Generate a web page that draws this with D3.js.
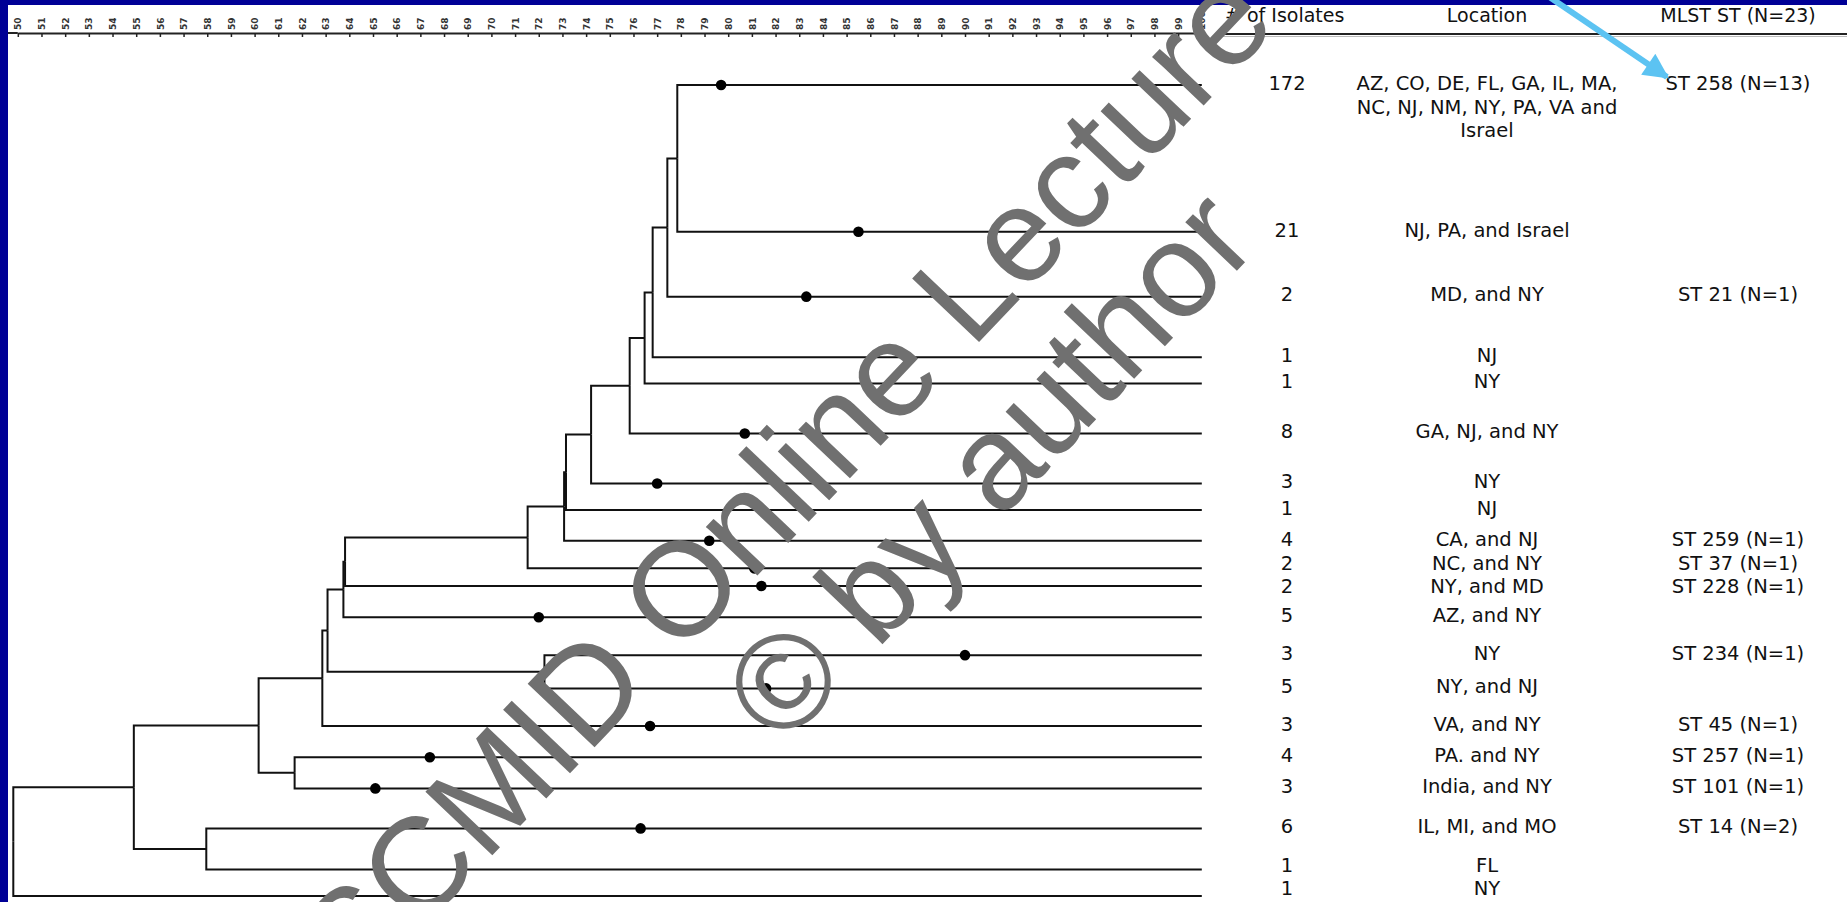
<!DOCTYPE html>
<html>
<head>
<meta charset="utf-8">
<script src="https://cdn.jsdelivr.net/npm/d3@7"></script>
<style>
  body { margin: 0; background: #fff; }
  svg { display: block; }
</style>
</head>
<body>
<svg id="chart"></svg>
<script>
// ---- data ----
// leaf rows, top to bottom
var isolates = ["172", "21", "2", "1", "1", "8", "3", "1", "4", "2", "2", "5", "3", "5", "3", "4", "3", "6", "1", "1"];
var locations = [
    ["AZ, CO, DE, FL, GA, IL, MA,", "NC, NJ, NM, NY, PA, VA and", "Israel"],
    ["NJ, PA, and Israel"], ["MD, and NY"], ["NJ"], ["NY"], ["GA, NJ, and NY"], ["NY"], ["NJ"],
    ["CA, and NJ"], ["NC, and NY"], ["NY, and MD"], ["AZ, and NY"], ["NY"], ["NY, and NJ"],
    ["VA, and NY"], ["PA. and NY"], ["India, and NY"], ["IL, MI, and MO"], ["FL"], ["NY"]
];
var mlst = ["ST 258 (N=13)", "", "ST 21 (N=1)", "", "", "", "", "", "ST 259 (N=1)", "ST 37 (N=1)",
    "ST 228 (N=1)", "", "ST 234 (N=1)", "", "ST 45 (N=1)", "ST 257 (N=1)", "ST 101 (N=1)", "ST 14 (N=2)", "", ""];
// vertical slot of each leaf (row units)
var leafSlot = [0, 5.43, 7.83, 10.07, 11.04, 12.89, 14.74, 15.72, 16.86, 17.88,
    18.53, 19.69, 21.09, 22.32, 23.71, 24.87, 26.02, 27.50, 29.02, 30.0];
// % similarity of the dot drawn on each leaf branch (null = none)
var markerSim = [79.7, 85.5, 83.3, null, null, 80.7, 77.0, null, 79.2, 81.1,
    81.4, 72.0, 90.0, 81.6, 76.7, 67.4, 65.1, 76.3, null, null];
// merges: [child, child, % similarity of the join]; Lk = leaf k, Nk = k-th merge
var merges = [
    ["L0", "L1", 77.85], ["N0", "L2", 77.43], ["N1", "L3", 76.81], ["N2", "L4", 76.47],
    ["N3", "L5", 75.84], ["N4", "L6", 74.21], ["N5", "L7", 73.15], ["N6", "L8", 73.07],
    ["N7", "L9", 71.53], ["N8", "L10", 63.82], ["N9", "L11", 63.75], ["L12", "L13", 72.24],
    ["N10", "N11", 63.08], ["N12", "L14", 62.86], ["L15", "L16", 61.69], ["N13", "N14", 60.17],
    ["L17", "L18", 57.96], ["N15", "N16", 54.90], ["N17", "L19", 49.81]
];
var simTicks = [50, 51, 52, 53, 54, 55, 56, 57, 58, 59, 60, 61, 62, 63, 64, 65, 66, 67, 68, 69, 70,
    71, 72, 73, 74, 75, 76, 77, 78, 79, 80, 81, 82, 83, 84, 85, 86, 87, 88, 89, 90,
    91, 92, 93, 94, 95, 96, 97, 98, 99, 100];
var headers = ["# of Isolates", "Location", "MLST ST (N=23)"];

// ---- layout ----
var width = 1847, height = 902;
var font = "'DejaVu Sans', Verdana, sans-serif";

var svg = d3.select("#chart")
    .attr("width", width)
    .attr("height", height);

svg.append("rect").attr("width", width).attr("height", height).attr("fill", "#fff");
// blue slide frame
svg.append("rect").attr("x", 0).attr("y", 0).attr("width", 8).attr("height", height).attr("fill", "#000096");
svg.append("rect").attr("x", 0).attr("y", 0).attr("width", width).attr("height", 5).attr("fill", "#000096");

var x = d3.scaleLinear().domain([50, 100]).range([17.8, 1201.8]);
var y = d3.scaleLinear().domain([0, 30]).range([85, 896]);

// top similarity axis
var axisG = svg.append("g")
    .attr("transform", "translate(0,33)")
    .call(d3.axisTop(x).tickValues(simTicks).tickSize(-4).tickSizeOuter(0));
axisG.select(".domain").attr("stroke", "#222").attr("stroke-width", 2);
axisG.selectAll(".tick line").attr("stroke", "#222").attr("stroke-width", 1.5);
axisG.selectAll(".tick text")
    .attr("transform", "rotate(-90)")
    .attr("x", 3)
    .attr("y", 0)
    .attr("dy", "0.35em")
    .style("text-anchor", "start")
    .style("font-family", font)
    .style("font-size", "9px")
    .style("font-weight", "bold")
    .style("fill", "#333");
svg.append("line").attr("x1", 8).attr("x2", x(50)).attr("y1", 33).attr("y2", 33)
    .attr("stroke", "#222").attr("stroke-width", 2);

// build the tree from merges
var nodes = {};
isolates.forEach(function (d, i) {
    nodes["L" + i] = {name: "L" + i, leaf: i, sim: 100};
});
merges.forEach(function (m, i) {
    nodes["N" + i] = {name: "N" + i, sim: m[2], children: [nodes[m[0]], nodes[m[1]]]};
});
var root = d3.hierarchy(nodes["N" + (merges.length - 1)]);
root.eachAfter(function (n) {
    n.px = x(n.data.sim);
    if (n.children) {
        n.py = d3.mean(n.children, function (c) { return c.py; });
    } else {
        n.py = y(leafSlot[n.data.leaf]);
    }
});

var tree = svg.append("g")
    .attr("fill", "none")
    .attr("stroke", "#111")
    .attr("stroke-width", 2);

// elbow links
tree.selectAll("path.link")
    .data(root.links())
    .enter().append("path")
    .attr("class", "link")
    .attr("d", function (l) {
        return "M" + l.source.px + "," + l.source.py + "V" + l.target.py + "H" + l.target.px;
    });

// dots on leaf branches
var leaves = root.leaves();
svg.append("g")
    .selectAll("circle")
    .data(leaves.filter(function (l) { return markerSim[l.data.leaf] != null; }))
    .enter().append("circle")
    .attr("cx", function (l) { return x(markerSim[l.data.leaf]); })
    .attr("cy", function (l) { return l.py; })
    .attr("r", 5.3)
    .attr("fill", "#000");

// header
var colX = [1225, 1487, 1738];
svg.append("g").selectAll("text")
    .data(headers)
    .enter().append("text")
    .attr("x", function (d, i) { return colX[i]; })
    .attr("y", 15)
    .attr("dy", "0.35em")
    .attr("text-anchor", function (d, i) { return i == 0 ? "start" : "middle"; })
    .style("font-family", font)
    .style("font-size", "19px")
    .style("fill", "#111")
    .text(function (d) { return d; });
svg.append("line").attr("x1", 1220).attr("x2", width).attr("y1", 34).attr("y2", 34)
    .attr("stroke", "#222").attr("stroke-width", 2);
svg.append("line").attr("x1", 1220).attr("x2", width).attr("y1", 36.5).attr("y2", 36.5)
    .attr("stroke", "#bbb").attr("stroke-width", 1);

// label rows follow the leaves, nudged apart where two leaves sit too close
var labelY = isolates.map(function (d, i) { return y(leafSlot[i]) - 2; });
var minGap = 23;
for (var pass = 0; pass < 10; pass++) {
    labelY[labelY.length - 1] = Math.min(labelY[labelY.length - 1], height - 14);
    for (var i = 1; i < labelY.length; i++) {
        var gap = labelY[i] - labelY[i - 1];
        if (gap < minGap) {
            var shift = (minGap - gap) / 2;
            labelY[i - 1] -= shift;
            labelY[i] += shift;
        }
    }
}

var rows = svg.append("g")
    .style("font-family", font)
    .style("font-size", "19.5px")
    .style("fill", "#111");

isolates.forEach(function (n, i) {
    var ly = labelY[i];
    rows.append("text").attr("x", 1287).attr("y", ly).attr("dy", "0.35em")
        .attr("text-anchor", "middle").text(n);
    var t = rows.append("text").attr("x", 1487).attr("y", ly)
        .attr("text-anchor", "middle");
    locations[i].forEach(function (line, k) {
        t.append("tspan").attr("x", 1487).attr("dy", k == 0 ? "0.35em" : "1.22em").text(line);
    });
    if (mlst[i]) {
        rows.append("text").attr("x", 1738).attr("y", ly).attr("dy", "0.35em")
            .attr("text-anchor", "middle").text(mlst[i]);
    }
});

// watermark
var wm = svg.append("g")
    .style("font-family", "'Liberation Sans', Arial, sans-serif")
    .style("font-size", "134px")
    .style("fill", "#707070");
wm.append("text").attr("transform", "translate(295,1063) rotate(-46.5)").text("ESCMID Online Lecture Library");
wm.append("text").attr("transform", "translate(783,749) rotate(-46.5)").text("\u00A9 by author");

// light blue arrow pointing at ST 258
var defs = svg.append("defs");
defs.append("marker")
    .attr("id", "head")
    .attr("viewBox", "0 0 10 10")
    .attr("refX", 9).attr("refY", 5)
    .attr("markerWidth", 5).attr("markerHeight", 4.2)
    .attr("markerUnits", "strokeWidth")
    .attr("orient", "auto")
    .append("path").attr("d", "M0,0L10,5L0,10z").attr("fill", "#5cc3f2");
svg.append("line")
    .attr("x1", 1545).attr("y1", -6).attr("x2", 1667).attr("y2", 77)
    .attr("stroke", "#5cc3f2").attr("stroke-width", 6)
    .attr("marker-end", "url(#head)");
</script>
</body>
</html>
